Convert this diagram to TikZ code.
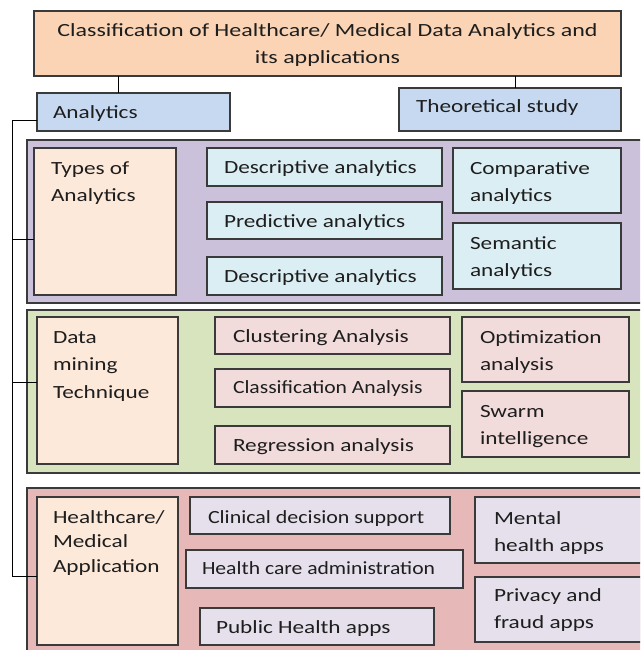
\documentclass[tikz,border=0pt]{standalone}
\usepackage{fontspec}
\setmainfont{Carlito}[FakeStretch=1.25]
\usetikzlibrary{fit}
\definecolor{edge}{HTML}{3A3A3A}
\definecolor{ink}{HTML}{1E1E1E}
\definecolor{titlefill}{HTML}{FAD4B4}
\definecolor{headfill}{HTML}{C6D9F1}
\definecolor{purplepanel}{HTML}{CCC1DA}
\definecolor{bluecell}{HTML}{DBEEF4}
\definecolor{creamcell}{HTML}{FDE9D9}
\definecolor{greenpanel}{HTML}{D7E4BD}
\definecolor{pinkcell}{HTML}{F2DCDB}
\definecolor{redpanel}{HTML}{E6B9B8}
\definecolor{lavcell}{HTML}{E5E0EC}
\begin{document}
\begin{tikzpicture}[x=1pt,y=-1pt,
  box/.style={draw=edge, line width=1.2pt, inner sep=0pt, outer sep=0pt},
  % labels are placed by the baseline of their last line
  lbl/.style={anchor=base west, inner sep=0pt, outer sep=0pt, align=left,
    font=\fontsize{18.6}{26.5}\selectfont, text=ink},
  tight/.style={xscale=0.93},
  conn/.style={draw=black, line width=1pt}]
\useasboundingbox (0,0) rectangle (640,650);
\begin{scope}
\clip (0,0) rectangle (640,650);

% header boxes
\node[box, fill=titlefill, fit={(34,11) (621,76)}] (title) {};
\node[lbl, anchor=base, align=center, font=\fontsize{18.6}{27}\selectfont,
  xscale=1.03] (title-t) at (327.5,64)
  {Classification of Healthcare/ Medical Data Analytics and\\its applications};
\node[box, fill=headfill, fit={(37,93) (230,131)}] (analytics) {};
\node[lbl] (analytics-t) at (53,118) {Analytics};
\node[box, fill=headfill, fit={(399,88) (621,131)}] (theory) {};
\node[lbl] (theory-t) at (416,113) {Theoretical study};

% types of analytics
\node[box, fill=purplepanel, fit={(27,140) (660,303)}] (panelA) {};
\node[box, fill=creamcell, fit={(34,148) (176,295)}] (types) {};
\node[lbl] (types-t) at (51,201) {Types of\\Analytics};
\node[box, fill=bluecell, fit={(207,148) (442,186)}] (desc1) {};
\node[lbl] (desc1-t) at (224,173) {Descriptive analytics};
\node[box, fill=bluecell, fit={(207,202) (442,239)}] (pred) {};
\node[lbl] (pred-t) at (224,227) {Predictive analytics};
\node[box, fill=bluecell, fit={(207,257) (442,295)}] (desc2) {};
\node[lbl] (desc2-t) at (224,282) {Descriptive analytics};
\node[box, fill=bluecell, fit={(453,148) (621,213)}] (comp) {};
\node[lbl] (comp-t) at (470,201) {Comparative\\analytics};
\node[box, fill=bluecell, fit={(453,223) (621,289)}] (sem) {};
\node[lbl] (sem-t) at (470,276) {Semantic\\analytics};

% data mining techniques
\node[box, fill=greenpanel, fit={(27,310) (660,473)}] (panelB) {};
\node[box, fill=creamcell, fit={(37,317) (178,464)}] (dm) {};
\node[lbl, font=\fontsize{18.6}{27.5}\selectfont] (dm-t) at (53,398) {Data\\mining\\Technique};
\node[box, fill=pinkcell, fit={(215,317) (450,354)}] (clus) {};
\node[lbl] (clus-t) at (233,342) {Clustering Analysis};
\node[box, fill=pinkcell, fit={(215,369) (450,407)}] (clas) {};
\node[lbl, tight] (clas-t) at (233,393) {Classification Analysis};
\node[box, fill=pinkcell, fit={(215,426) (450,464)}] (reg) {};
\node[lbl] (reg-t) at (233,451) {Regression analysis};
\node[box, fill=pinkcell, fit={(462,317) (629,382)}] (opt) {};
\node[lbl] (opt-t) at (480,370) {Optimization\\analysis};
\node[box, fill=pinkcell, fit={(462,391) (629,457)}] (swarm) {};
\node[lbl] (swarm-t) at (480,444) {Swarm\\intelligence};

% healthcare applications
\node[box, fill=redpanel, fit={(27,488) (660,660)}] (panelC) {};
\node[box, fill=creamcell, fit={(37,497) (178,645)}] (hc) {};
\node[lbl, font=\fontsize{18.6}{24.5}\selectfont] (hc-t) at (53,572) {Healthcare/\\Medical\\Application};
\node[box, fill=lavcell, fit={(190,497) (450,534)}] (cds) {};
\node[lbl, xscale=0.945] (cds-t) at (208,523) {Clinical decision support};
\node[box, fill=lavcell, fit={(186,550) (463,588)}] (adm) {};
\node[lbl, tight] (adm-t) at (202,574) {Health care administration};
\node[box, fill=lavcell, fit={(200,608) (434,645)}] (pub) {};
\node[lbl] (pub-t) at (216,633) {Public Health apps};
\node[box, fill=lavcell, fit={(475,497) (660,563)}] (mental) {};
\node[lbl] (mental-t) at (494,551) {Mental\\health apps};
\node[box, fill=lavcell, fit={(475,577) (660,642)}] (priv) {};
\node[lbl] (priv-t) at (494,628) {Privacy and\\fraud apps};

% connectors
\coordinate (cl) at (118,0);
\coordinate (cr) at (515,0);
\draw[conn] (title.south -| cl) -- (analytics.north -| cl);
\draw[conn] (title.south -| cr) -- (theory.north -| cr);

\coordinate (b0) at (12,121);
\coordinate (b1) at (12,239);
\coordinate (b2) at (12,382);
\coordinate (b3) at (12,576);
\draw[conn] (b0 -| analytics.west) -- (b0) -- (b3) -- (b3 -| hc.west);
\draw[conn] (b1) -- (b1 -| types.west);
\draw[conn] (b2) -- (b2 -| dm.west);
\end{scope}
\end{tikzpicture}
\end{document}
